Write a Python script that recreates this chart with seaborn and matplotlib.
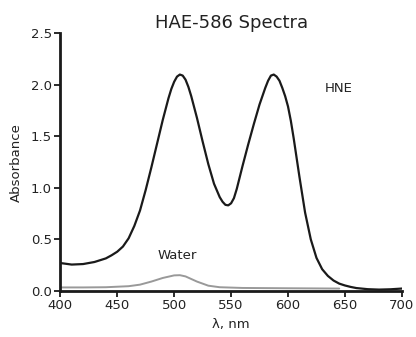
import numpy as np
import pandas as pd
import seaborn as sns
import matplotlib.pyplot as plt

# HNE absorbance spectrum
hne_nm = [400, 410, 420, 430, 440, 445, 450, 455, 460, 465, 470, 475, 480, 485,
          490, 495, 497.5, 500, 502.5, 505, 507.5, 510, 512.5, 515, 520, 525,
          530, 535, 540, 542.5, 545, 547.5, 550, 552.5, 555, 560, 565, 570, 575,
          580, 582.5, 585, 587.5, 590, 592.5, 595, 597.5, 600, 602.5, 605, 610,
          615, 620, 625, 630, 635, 640, 645, 650, 655, 660, 670, 680, 690, 700]
hne_abs = [0.27, 0.255, 0.26, 0.28, 0.315, 0.345, 0.38, 0.43, 0.51, 0.63, 0.78,
           0.98, 1.20, 1.43, 1.66, 1.87, 1.96, 2.03, 2.08, 2.10, 2.09, 2.05, 1.98,
           1.89, 1.68, 1.45, 1.23, 1.04, 0.91, 0.865, 0.835, 0.83, 0.85, 0.90,
           0.99, 1.21, 1.42, 1.62, 1.81, 1.97, 2.04, 2.09, 2.10, 2.08, 2.04, 1.97,
           1.89, 1.79, 1.65, 1.48, 1.11, 0.76, 0.50, 0.32, 0.21, 0.145, 0.10,
           0.07, 0.052, 0.038, 0.027, 0.016, 0.012, 0.015, 0.022]

# Water (blank) spectrum
water_nm = [400, 420, 440, 460, 470, 480, 490, 500, 505, 510, 520, 530, 540,
            560, 600, 645]
water_abs = [0.033, 0.033, 0.035, 0.045, 0.06, 0.09, 0.125, 0.15, 0.152, 0.14,
             0.09, 0.05, 0.035, 0.028, 0.025, 0.022]

sns.set_style("ticks")
plt.rcParams['font.family'] = ['DejaVu Sans']

fig = plt.figure(figsize=(4.16, 3.37), dpi=100)
ax = fig.add_axes([0.145, 0.137, 0.821, 0.764])

sns.lineplot(x=water_nm, y=water_abs, color="#999999", linewidth=1.4, ax=ax)
sns.lineplot(x=hne_nm, y=hne_abs, color="#1a1a1a", linewidth=1.6, ax=ax)

ax.set_xlim(400, 700)
ax.set_ylim(0, 2.5)
ax.set_xticks([400, 450, 500, 550, 600, 650, 700])
ax.set_yticks([0.0, 0.5, 1.0, 1.5, 2.0, 2.5])
ax.set_yticklabels(["0.0", "0.5", "1.0", "1.5", "2.0", "2.5"])
sns.despine(ax=ax)
for s in ["left", "bottom"]:
    ax.spines[s].set_linewidth(2)
    ax.spines[s].set_color("#1a1a1a")
ax.tick_params(axis="both", length=4, width=1.3, color="#1a1a1a",
               labelsize=9.5, labelcolor="#222222", pad=2)

ax.set_title("HAE-586 Spectra", fontsize=13, color="#222222", pad=4)
ax.set_xlabel("λ, nm", fontsize=9.5, color="#222222", labelpad=4)
ax.set_ylabel("Absorbance", fontsize=9.5, color="#222222", labelpad=6)

ax.text(632, 1.96, "HNE", fontsize=9.5, color="#222222", va="center", ha="left")
ax.text(503, 0.34, "Water", fontsize=9.5, color="#222222", va="center", ha="center")

fig.savefig("out.png", dpi=100)
